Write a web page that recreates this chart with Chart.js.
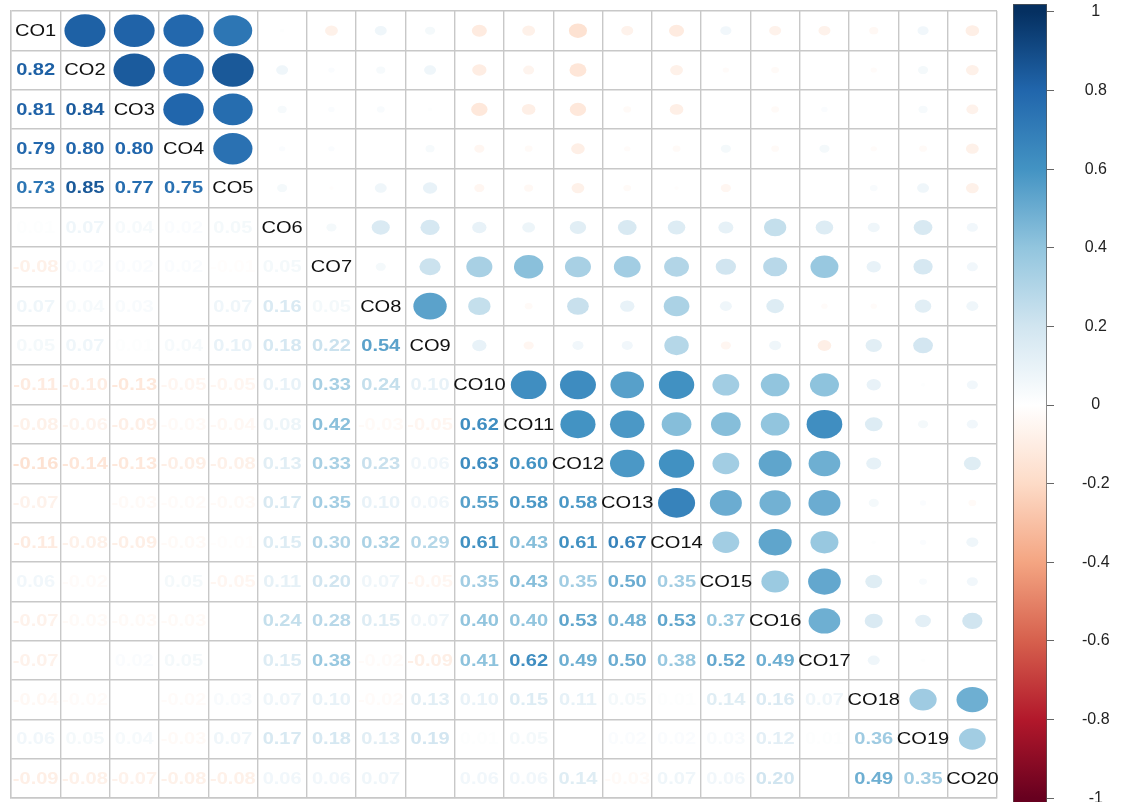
<!DOCTYPE html>
<html>
<head>
<meta charset="utf-8">
<script src="https://cdn.jsdelivr.net/npm/chart.js@4.4.1/dist/chart.umd.min.js"></script>
<style>
  html, body { margin: 0; padding: 0; background: #fff; overflow: hidden; }
  #wrap { position: relative; width: 1121px; height: 802px; overflow: hidden; }
  #corr { position: absolute; left: 0; top: 0; }
  #scale { position: absolute; left: 1000px; top: 0; }
</style>
</head>
<body>
<div id="wrap">
  <canvas id="corr" width="1000" height="802"></canvas>
  <canvas id="scale" width="121" height="810"></canvas>
</div>
<script>
(function () {
  'use strict';

  const names = ['CO1', 'CO2', 'CO3', 'CO4', 'CO5', 'CO6', 'CO7', 'CO8', 'CO9', 'CO10',
                 'CO11', 'CO12', 'CO13', 'CO14', 'CO15', 'CO16', 'CO17', 'CO18', 'CO19', 'CO20'];

  // correlation of each item with the items before it
  const CO2  = [0.82];
  const CO3  = [0.81, 0.84];
  const CO4  = [0.79, 0.80, 0.80];
  const CO5  = [0.73, 0.85, 0.77, 0.75];
  const CO6  = [0.01, 0.07, 0.04, 0.02, 0.05];
  const CO7  = [-0.08, 0.02, 0.02, 0.02, -0.01, 0.05];
  const CO8  = [0.07, 0.04, 0.03, 0.00, 0.07, 0.16, 0.05];
  const CO9  = [0.05, 0.07, 0.01, 0.04, 0.10, 0.18, 0.22, 0.54];
  const CO10 = [-0.11, -0.10, -0.13, -0.05, -0.05, 0.10, 0.33, 0.24, 0.10];
  const CO11 = [-0.08, -0.06, -0.09, -0.03, -0.04, 0.08, 0.42, -0.03, -0.05, 0.62];
  const CO12 = [-0.16, -0.14, -0.13, -0.09, -0.08, 0.13, 0.33, 0.23, 0.06, 0.63, 0.60];
  const CO13 = [-0.07, 0.00, -0.03, -0.02, -0.03, 0.17, 0.35, 0.10, 0.06, 0.55, 0.58, 0.58];
  const CO14 = [-0.11, -0.08, -0.09, -0.03, -0.01, 0.15, 0.30, 0.32, 0.29, 0.61, 0.43, 0.61, 0.67];
  const CO15 = [0.06, -0.02, 0.00, 0.05, -0.05, 0.11, 0.20, 0.07, -0.05, 0.35, 0.43, 0.35, 0.50, 0.35];
  const CO16 = [-0.07, -0.03, -0.03, -0.03, 0.00, 0.24, 0.28, 0.15, 0.07, 0.40, 0.40, 0.53, 0.48, 0.53, 0.37];
  const CO17 = [-0.07, 0.00, 0.02, 0.05, 0.00, 0.15, 0.38, -0.02, -0.09, 0.41, 0.62, 0.49, 0.50, 0.38, 0.52, 0.49];
  const CO18 = [-0.04, -0.02, 0.00, -0.02, 0.03, 0.07, 0.10, -0.02, 0.13, 0.10, 0.15, 0.11, 0.05, 0.01, 0.14, 0.16, 0.07];
  const CO19 = [0.06, 0.05, 0.04, -0.03, 0.07, 0.17, 0.18, 0.13, 0.19, 0.01, 0.05, 0.00, 0.02, 0.02, 0.03, 0.12, 0.01, 0.36];
  const CO20 = [-0.09, -0.08, -0.07, -0.08, -0.08, 0.06, 0.06, 0.07, 0.00, 0.06, 0.06, 0.14, -0.03, 0.07, 0.06, 0.20, 0.00, 0.49, 0.35];

  const colorTicks = [1, 0.8, 0.6, 0.4, 0.2, 0, -0.2, -0.4, -0.6, -0.8, -1];

  // RdBu ramp, -1 .. 1
  const palette = ['#67001F', '#B2182B', '#D6604D', '#F4A582', '#FDDBC7', '#FFFFFF',
                   '#D1E5F0', '#92C5DE', '#4393C3', '#2166AC', '#053061'];

  const rows = [[], CO2, CO3, CO4, CO5, CO6, CO7, CO8, CO9, CO10,
                CO11, CO12, CO13, CO14, CO15, CO16, CO17, CO18, CO19, CO20];

  function hexRgb(h) {
    return [parseInt(h.substr(1, 2), 16), parseInt(h.substr(3, 2), 16), parseInt(h.substr(5, 2), 16)];
  }

  function corrColor(v) {
    let t = (Math.max(-1, Math.min(1, v)) + 1) / 2 * (palette.length - 1);
    let i = Math.min(Math.floor(t), palette.length - 2);
    let f = t - i;
    let a = hexRgb(palette[i]), b = hexRgb(palette[i + 1]);
    let c = a.map(function (x, k) { return Math.round(x + (b[k] - x) * f); });
    return 'rgb(' + c.join(',') + ')';
  }

  //BUILD CELLS
  let upper = [], lower = [], diag = [];
  names.forEach(function (name, i) {
    names.forEach(function (other, j) {
      let pt = { x: j + 0.5, y: i + 0.5 };
      if (i === j) {
        pt.label = name;
        diag.push(pt);
      } else if (i > j) {
        pt.v = rows[i][j];
        lower.push(pt);
      } else {
        pt.v = rows[j][i];
        upper.push(pt);
      }
    });
  });

  const cellPlugin = {
    id: 'cells',
    afterDatasetsDraw: function (chart) {
      let ctx = chart.ctx;
      let xs = chart.scales.x, ys = chart.scales.y;
      let cw = Math.abs(xs.getPixelForValue(1) - xs.getPixelForValue(0));
      let ch = Math.abs(ys.getPixelForValue(1) - ys.getPixelForValue(0));
      let stretch = cw / ch;

      chart.data.datasets.forEach(function (ds, k) {
        let meta = chart.getDatasetMeta(k);
        meta.data.forEach(function (el, n) {
          let p = ds.data[n];
          ctx.save();
          if (ds.kind === 'circle') {
            let s = Math.sqrt(Math.abs(p.v)) * 0.46;
            ctx.fillStyle = corrColor(p.v);
            ctx.beginPath();
            ctx.ellipse(el.x, el.y, cw * s, ch * s, 0, 0, Math.PI * 2);
            ctx.fill();
          } else {
            ctx.translate(el.x, el.y);
            ctx.scale(stretch, 1);
            ctx.textAlign = 'center';
            ctx.textBaseline = 'middle';
            if (ds.kind === 'number') {
              ctx.font = 'bold 16px "Liberation Sans", Arial, sans-serif';
              ctx.fillStyle = corrColor(p.v);
              ctx.fillText(p.v.toFixed(2), 0, 1);
            } else {
              ctx.font = '16px "Liberation Sans", Arial, sans-serif';
              ctx.fillStyle = '#111';
              ctx.fillText(p.label, 0, 1);
            }
          }
          ctx.restore();
        });
      });
    }
  };

  const gridColor = '#c8c8c8';

  new Chart(document.getElementById('corr'), {
    type: 'scatter',
    data: {
      datasets: [
        { kind: 'circle', data: upper, pointRadius: 0 },
        { kind: 'number', data: lower, pointRadius: 0 },
        { kind: 'label', data: diag, pointRadius: 0 }
      ]
    },
    options: {
      responsive: false,
      animation: false,
      events: [],
      layout: { padding: { left: 11, right: 3, top: 11, bottom: 4 } },
      plugins: { legend: { display: false }, tooltip: { enabled: false } },
      scales: {
        x: {
          type: 'linear', min: 0, max: 20,
          ticks: { stepSize: 1, display: false },
          grid: { color: gridColor, lineWidth: 1.4, drawTicks: false },
          border: { color: gridColor, width: 1.4 },
          afterFit: function (s) { s.height = 0; }
        },
        y: {
          type: 'linear', min: 0, max: 20, reverse: true,
          ticks: { stepSize: 1, display: false },
          grid: { color: gridColor, lineWidth: 1.4, drawTicks: false },
          border: { color: gridColor, width: 1.4 },
          afterFit: function (s) { s.width = 0; }
        }
      }
    },
    plugins: [cellPlugin]
  });

  //COLOUR KEY
  new Chart(document.getElementById('scale'), {
    type: 'bar',
    data: {
      labels: [''],
      datasets: [{
        data: [[-1.02, 1.02]],
        backgroundColor: function (c) {
          let chart = c.chart;
          if (!chart.chartArea) return null;
          let y = chart.scales.y;
          let g = chart.ctx.createLinearGradient(0, y.getPixelForValue(-1), 0, y.getPixelForValue(1));
          palette.forEach(function (col, i) { g.addColorStop(i / (palette.length - 1), col); });
          return g;
        },
        borderColor: '#555',
        borderWidth: 1,
        borderSkipped: false,
        barPercentage: 1,
        categoryPercentage: 1
      }]
    },
    options: {
      responsive: false,
      animation: false,
      events: [],
      layout: { padding: { left: 13, right: 0, top: 4, bottom: 4 } },
      plugins: { legend: { display: false }, tooltip: { enabled: false } },
      scales: {
        x: { display: false },
        y: {
          position: 'right', min: -1.02, max: 1.02,
          afterBuildTicks: function (s) { s.ticks = colorTicks.map(function (v) { return { value: v }; }); },
          ticks: {
            callback: function (v) { return String(v); },
            crossAlign: 'center',
            padding: 28,
            color: '#222',
            font: { family: '"Liberation Sans", Arial, sans-serif', size: 16 }
          },
          grid: { drawOnChartArea: false, tickLength: 7, color: '#666' },
          border: { display: false },
          afterFit: function (s) {
            s.width = 74;
            s.paddingTop = 0;
            s.paddingBottom = 0;
          }
        }
      }
    }
  });

})();
</script>
</body>
</html>
